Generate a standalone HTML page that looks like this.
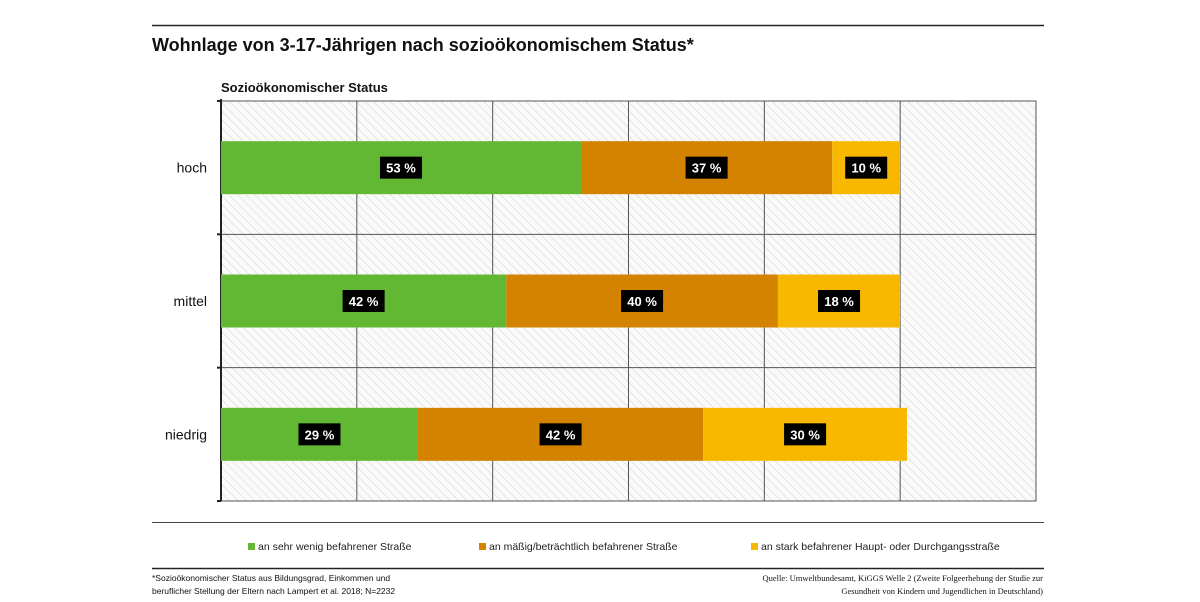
<!DOCTYPE html>
<html><head><meta charset="utf-8"><style>
body{margin:0;width:1200px;height:602px;background:#fff;overflow:hidden;font-family:"Liberation Sans",sans-serif}
svg{position:absolute;left:0;top:0}
</style></head><body>
<svg width="1200" height="602">
<defs><pattern id="hatch" width="6" height="6" patternUnits="userSpaceOnUse" patternTransform="rotate(-45)"><rect width="6" height="6" fill="#fafafa"/><line x1="0" y1="0" x2="0" y2="6" stroke="#cfcfcf" stroke-width="1"/></pattern></defs>
<line x1="152" y1="25.5" x2="1044" y2="25.5" stroke="#222" stroke-width="1.5"/>
<text x="152" y="51" font-size="18" font-weight="bold" fill="#111">Wohnlage von 3-17-Jährigen nach sozioökonomischem Status*</text>
<text x="221" y="92" font-size="13" font-weight="bold" fill="#111">Sozioökonomischer Status</text>
<rect x="221" y="101" width="815" height="400" fill="url(#hatch)" stroke="#555" stroke-width="1"/>
<g id="grid"></g>
<g id="bars"></g>
<g id="labels"></g>
<line x1="152" y1="522.5" x2="1044" y2="522.5" stroke="#444" stroke-width="1"/>
<g font-size="10.5" fill="#222">
<rect x="248" y="543" width="7" height="7" fill="#62b832"/>
<text x="258" y="550">an sehr wenig befahrener Straße</text>
<rect x="479" y="543" width="7" height="7" fill="#d38300"/>
<text x="489" y="550">an mäßig/beträchtlich befahrener Straße</text>
<rect x="751" y="543" width="7" height="7" fill="#f8b800"/>
<text x="761" y="550">an stark befahrener Haupt- oder Durchgangsstraße</text>
</g>
<line x1="152" y1="568.5" x2="1044" y2="568.5" stroke="#222" stroke-width="1.5"/>
<g font-size="8.5" fill="#111">
<text x="152" y="581">*Sozioökonomischer Status aus Bildungsgrad, Einkommen und</text>
<text x="152" y="594">beruflicher Stellung der Eltern nach Lampert et al. 2018; N=2232</text>
<text x="1043" y="581" text-anchor="end" font-family="Liberation Serif,serif">Quelle: Umweltbundesamt, KiGGS Welle 2 (Zweite Folgeerhebung der Studie zur</text>
<text x="1043" y="594" text-anchor="end" font-family="Liberation Serif,serif">Gesundheit von Kindern und Jugendlichen in Deutschland)</text>
</g>
</svg>
<script>
const categories=["hoch","mittel","niedrig"];
const lowTraffic=[53,42,29];
const moderateTraffic=[37,40,42];
const heavyTraffic=[10,18,30];
const seriesColors=["#62b832","#d38300","#f8b800"];
const seriesNames=["low-traffic","moderate-traffic","heavy-traffic"];
const xMax=120, gridStep=20;
const X0=221,X1=1036,Y0=101,Y1=501;
const x=v=>X0+(v/xMax)*(X1-X0);
const band=(Y1-Y0)/categories.length;
const NS="http://www.w3.org/2000/svg";
function mk(t,a,p){const e=document.createElementNS(NS,t);for(const k in a)e.setAttribute(k,a[k]);p.appendChild(e);return e;}
const grid=document.getElementById('grid'),bars=document.getElementById('bars'),labels=document.getElementById('labels');
for(let v=gridStep;v<xMax;v+=gridStep){const l=mk('line',{x1:x(v),x2:x(v),y1:Y0,y2:Y1,stroke:'#555','stroke-width':1},grid);

}
for(let i=1;i<categories.length;i++){const l=mk('line',{x1:X0,x2:X1,y1:Y0+band*i,y2:Y0+band*i,stroke:'#555','stroke-width':1},grid);

}
const ax=mk('line',{x1:X0,x2:X0,y1:Y0-2,y2:Y1,stroke:'#222','stroke-width':2},grid);


for(let i=0;i<=categories.length;i++){const t=mk('line',{x1:X0-4,x2:X0,y1:Y0+band*i,y2:Y0+band*i,stroke:'#222','stroke-width':2},grid);

}
const series=[lowTraffic,moderateTraffic,heavyTraffic];
categories.forEach((c,i)=>{
 const cy=Y0+band*(i+0.5);
 const lab=mk('text',{x:207,y:cy+5,'text-anchor':'end','font-size':14,fill:'#111'},labels);lab.textContent=c;
 
 
 let acc=0;
 series.forEach((s,j)=>{
  const v=s[i];
  const r=mk('rect',{x:x(acc),y:cy-26.5,width:x(acc+v)-x(acc),height:53,fill:seriesColors[j]},bars);
  
  
  const mx=(x(acc)+x(acc+v))/2;
  const bg=mk('rect',{x:mx-21,y:cy-11,width:42,height:22,fill:'#000'},labels);
  
  
  const t=mk('text',{x:mx,y:cy+5,'text-anchor':'middle','font-size':13,'font-weight':'bold',fill:'#fff'},labels);
  t.textContent=v+' %';
  
  
  acc+=v;
 });
});
</script>
</body></html>
